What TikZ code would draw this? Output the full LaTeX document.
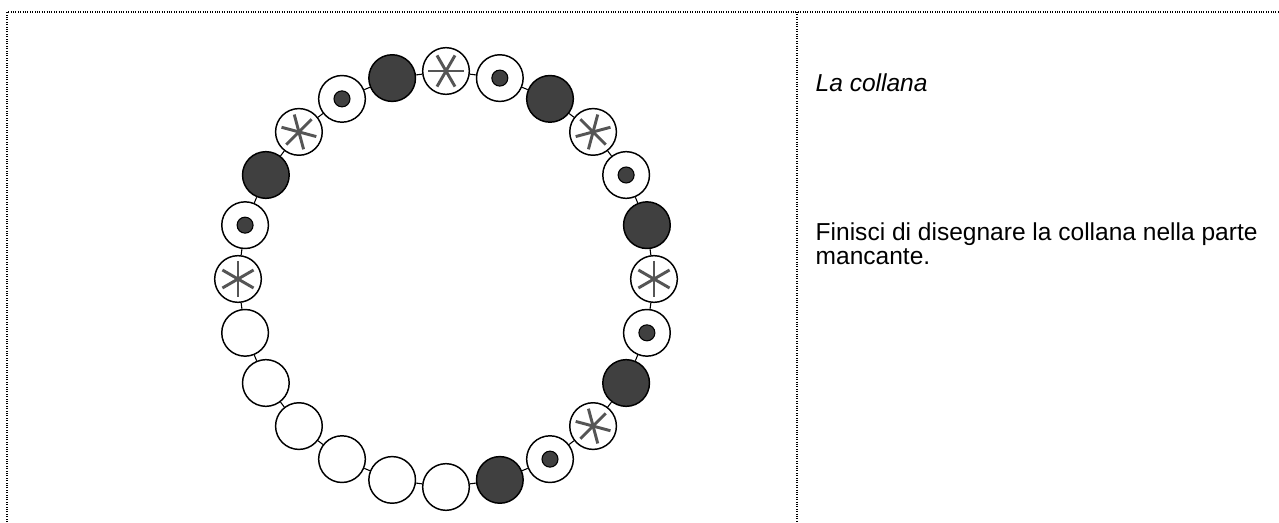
\documentclass[tikz,border=0pt]{standalone}
\usepackage{fontspec}
\setmainfont{Liberation Sans}
\usetikzlibrary{calc}
\definecolor{beaddark}{HTML}{404040}
\definecolor{spokegray}{HTML}{555555}
\begin{document}
\begin{tikzpicture}[
        x=0.75pt, y=0.75pt,
        frame/.style={densely dotted, line width=0.8pt},
        bead/.style={circle, draw, line width=1.1pt, minimum size=35pt, inner sep=0pt, fill=white}, % Perla
        fullbead/.style={bead, fill=beaddark},
        dotbead/.style={bead},
        starbead/.style={bead},
        emptybead/.style={bead},
        pip/.style={circle, draw, line width=0.8pt, fill=beaddark, minimum size=12pt, inner sep=0pt},
        spoke/.style={spokegray, line width=2.2pt},
        thread/.style={line width=0.8pt},
        txt/.style={anchor=base west, align=left, font=\fontsize{18.4}{18.2}\selectfont},
    ]
    \useasboundingbox (0,0) rectangle (1279,522);

    % cornice
    \draw[frame] (7,0) -- (7,510) -- (1279,510);
    \draw[frame] (797,510) -- (797,0);

    % collana
    \begin{scope}[shift={(446,243)}]
        \foreach \i/\kind in {0/starbead, 1/fullbead, 2/dotbead, 3/starbead, 4/fullbead, 5/dotbead,
                6/starbead, 7/fullbead, 8/dotbead, 9/starbead, 10/fullbead, 11/dotbead,
                12/starbead, 13/emptybead, 14/emptybead, 15/emptybead, 16/emptybead, 17/emptybead,
                18/emptybead, 19/fullbead, 20/dotbead, 21/starbead, 22/fullbead, 23/dotbead}
            \node[\kind] (b\i) at (15*\i:208) {};
    \end{scope}

    \foreach \i [evaluate=\i as \j using {int(mod(\i+1,24))}] in {0,...,23}
        \draw[thread] (b\i) -- (b\j);

    \foreach \i in {2,5,8,11,20,23}
        \node[pip] (p\i) at (b\i) {};

    \foreach \i [evaluate=\i as \ang using {15*\i}] in {0,3,6,9,12,21}
        \foreach \arm in {30,90,150} {
            \pgfmathsetmacro\armA{\ang+\arm}
            \pgfmathsetmacro\armB{\ang+\arm+180}
            \draw[spoke] ($(b\i.center)+(\armA:18)$) -- ($(b\i.center)+(\armB:18)$);
        }

    % testo
    \node[txt, font=\fontsize{18.4}{18.2}\selectfont\itshape] (title) at (811,430) {La collana};
    \node[txt] (task) at (811,257) {Finisci di disegnare la collana nella parte\\mancante.};

\end{tikzpicture}
\end{document}
